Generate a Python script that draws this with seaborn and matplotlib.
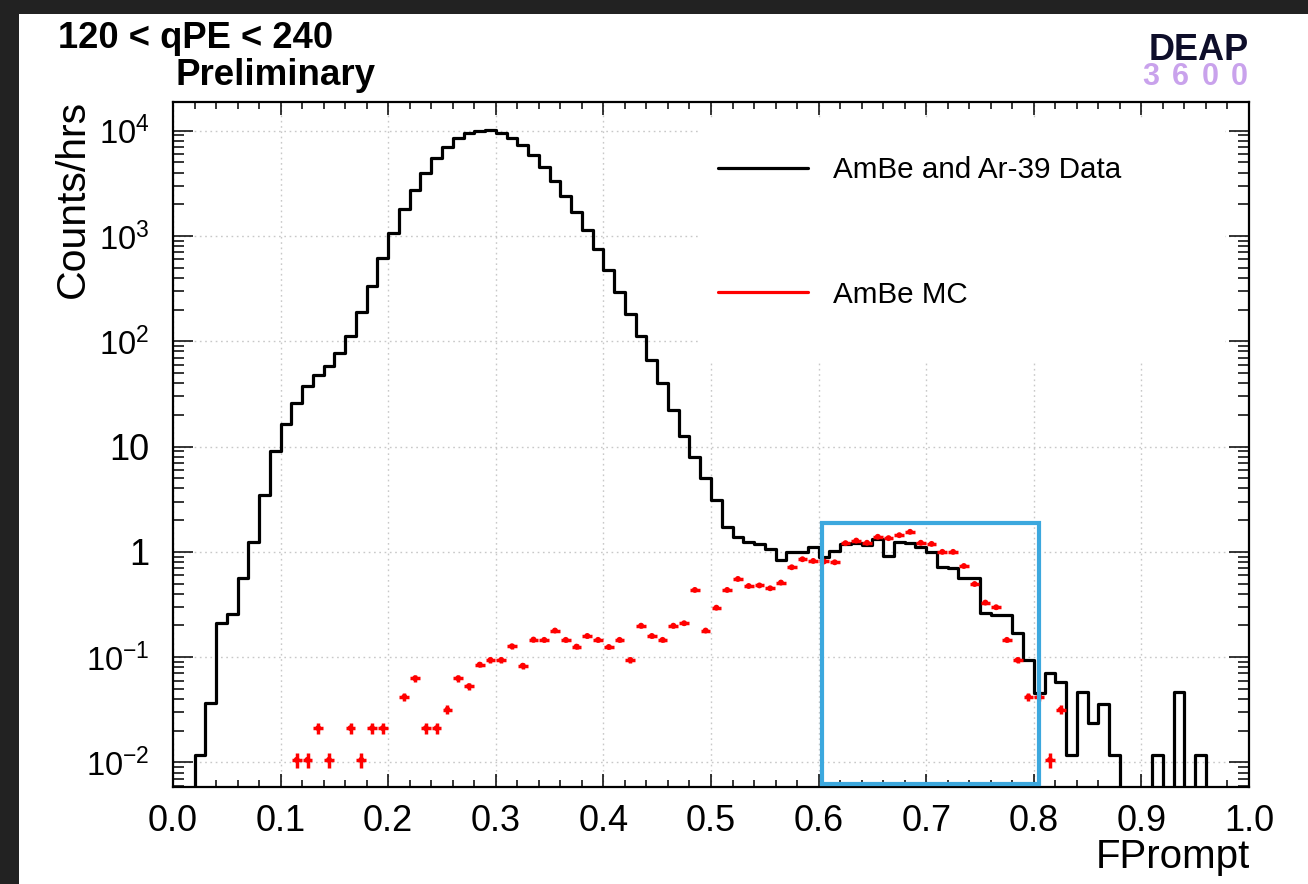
import numpy as np
import pandas as pd
import matplotlib
matplotlib.use("Agg")
import matplotlib.pyplot as plt
import matplotlib.ticker as mticker
from matplotlib.patches import Rectangle
from matplotlib.lines import Line2D
import seaborn as sns

# ---------------------------------------------------------------------------
# Data: FPrompt spectra for 120 < qPE < 240 (rates in counts per hour)
# ---------------------------------------------------------------------------
bin_edges = [round(0.01 * i, 2) for i in range(101)]
bin_centers = [round(0.01 * i + 0.005, 3) for i in range(100)]

# AmBe + Ar-39 data, one value per 0.01-wide FPrompt bin (0.00 ... 0.99)
data_rate = [
    0, 0, 0.0118, 0.0365, 0.213, 0.255, 0.561, 1.25, 3.47, 9.08,
    16.3, 26.1, 37.7, 47.9, 58.6, 78, 112, 191, 337, 622,
    1074, 1795, 2735, 3990, 5470, 6950, 8470, 9580, 10000, 10050,
    9600, 8470, 7310, 5870, 4550, 3350, 2400, 1700, 1140, 748,
    476, 296, 182, 111, 66.4, 40.4, 22.3, 12.6, 8.0, 5.0,
    3.1, 1.73, 1.39, 1.25, 1.19, 1.06, 0.84, 1.0, 0.99, 1.12,
    0.89, 1.03, 1.18, 1.22, 1.16, 1.32, 0.91, 1.25, 1.21, 1.11,
    1.0, 0.72, 0.70, 0.56, 0.56, 0.265, 0.252, 0.252, 0.169, 0.094,
    0.046, 0.071, 0.058, 0.0118, 0.047, 0.0239, 0.036, 0.0118, 0, 0,
    0, 0.0118, 0, 0.047, 0, 0.0118, 0, 0, 0, 0,
]

# AmBe Monte Carlo (bin centres with non-empty content)
mc_fprompt = [
    0.115, 0.125, 0.135, 0.145, 0.165, 0.175, 0.185, 0.195,
    0.215, 0.225, 0.235, 0.245, 0.255, 0.265, 0.275, 0.285, 0.295, 0.305,
    0.315, 0.325, 0.335, 0.345, 0.355, 0.365, 0.375, 0.385, 0.395, 0.405,
    0.415, 0.425, 0.435, 0.445, 0.455, 0.465, 0.475, 0.485, 0.495, 0.505,
    0.515, 0.525, 0.535, 0.545, 0.555, 0.565, 0.575, 0.585, 0.595, 0.605,
    0.615, 0.625, 0.635, 0.645, 0.655, 0.665, 0.675, 0.685, 0.695, 0.705,
    0.715, 0.725, 0.735, 0.745, 0.755, 0.765, 0.775, 0.785, 0.795, 0.805,
    0.815, 0.825,
]
mc_rate = [
    0.0106, 0.0106, 0.0212, 0.0106, 0.0212, 0.0106, 0.0212, 0.0212,
    0.042, 0.063, 0.0212, 0.0212, 0.0318, 0.063, 0.053, 0.085, 0.094, 0.094,
    0.127, 0.083, 0.147, 0.146, 0.179, 0.146, 0.126, 0.159, 0.146, 0.125,
    0.146, 0.094, 0.199, 0.159, 0.146, 0.199, 0.210, 0.435, 0.179, 0.295,
    0.435, 0.553, 0.474, 0.48, 0.451, 0.511, 0.714, 0.851, 0.82, 0.81,
    0.796, 1.21, 1.28, 1.22, 1.39, 1.35, 1.44, 1.55, 1.22, 1.19,
    1.0, 1.0, 0.734, 0.495, 0.33, 0.298, 0.146, 0.094, 0.042, 0.042,
    0.0106, 0.0318,
]

legend_labels = ["AmBe and Ar-39 Data", "AmBe MC"]
y_decades = [-2, -1, 0, 1, 2, 3, 4]

# ---------------------------------------------------------------------------
# Style
# ---------------------------------------------------------------------------
sns.set_style("ticks")
plt.rcParams["font.family"] = ["Liberation Sans", "DejaVu Sans"]
plt.rcParams["mathtext.fontset"] = "custom"
plt.rcParams["mathtext.rm"] = "Liberation Sans"
plt.rcParams["mathtext.default"] = "regular"
for key in ("text.color", "axes.labelcolor", "xtick.color", "ytick.color",
            "axes.edgecolor"):
    plt.rcParams[key] = "black"

W, H = 1308, 884
fig = plt.figure(figsize=(W / 100, H / 100), dpi=100)
fig.patch.set_facecolor("#222222")
fig.add_artist(Rectangle((19 / W, 0), 1 - 19 / W, 1 - 14 / H,
                         transform=fig.transFigure, facecolor="white",
                         edgecolor="none", zorder=-1))

ax_l, ax_r, ax_t, ax_b = 173, 1249, 102, 787
ax = fig.add_axes([ax_l / W, 1 - ax_b / H, (ax_r - ax_l) / W, (ax_b - ax_t) / H])
ax.set_facecolor("white")

# Data histogram
df_data = pd.DataFrame({"FPrompt": bin_centers, "rate": data_rate})
sns.histplot(data=df_data, x="FPrompt", weights="rate", bins=bin_edges,
             element="step", fill=False, color="black", linewidth=2.3,
             ax=ax, zorder=2)

# MC points with error bars
mc_x = np.asarray(mc_fprompt)
mc_y = np.asarray(mc_rate)
mc_err = np.sqrt(mc_y * 0.0003)
ax.errorbar(mc_x, mc_y, xerr=0.0045, yerr=mc_err, fmt="none",
            ecolor="#ff0000", elinewidth=2.5, capsize=0, zorder=3)
sns.scatterplot(x=mc_x, y=mc_y, color="#ff0000", s=18, marker="o",
                edgecolor="none", ax=ax, zorder=4, legend=False)

ax.set_yscale("log")
ax.set_xlim(0.0, 1.0)
ax.set_ylim(10 ** -2.233, 10 ** 4.272)

# Grid
ax.set_axisbelow(True)
ax.grid(True, which="major", color="#c8c8c8", linestyle=(0, (1.2, 2.6)),
        linewidth=1.0)

# Region-of-interest box
ax.add_patch(Rectangle((0.603, 0.00625), 0.805 - 0.603, 1.88 - 0.00625,
                       fill=False, edgecolor="#3ca8de", linewidth=3.0,
                       zorder=6))

# Blank backing behind the legend
ax.add_patch(Rectangle((0.488, 0.62), 0.978 - 0.488, 0.976 - 0.62,
                       transform=ax.transAxes, facecolor="white",
                       edgecolor="none", zorder=1))

handles = [Line2D([], [], color="black", lw=2.3),
           Line2D([], [], color="#ff0000", lw=2.3)]
ax.legend(handles, legend_labels, loc="upper left",
          bbox_to_anchor=(0.5065, 0.921), frameon=False, fontsize=21.3,
          handlelength=3.04, handletextpad=0.845, labelspacing=3.26,
          borderpad=0, borderaxespad=0)

# Ticks
ax.xaxis.set_major_locator(mticker.MultipleLocator(0.1))
ax.xaxis.set_minor_locator(mticker.MultipleLocator(0.02))
ax.xaxis.set_major_formatter(mticker.FormatStrFormatter("%.1f"))
ax.yaxis.set_major_locator(mticker.FixedLocator([10.0 ** d for d in y_decades]))
ax.yaxis.set_minor_locator(mticker.LogLocator(base=10, subs=np.arange(2, 10),
                                              numticks=100))
ax.yaxis.set_minor_formatter(mticker.NullFormatter())


def decade_label(v, pos):
    e = int(round(np.log10(v)))
    if e == 0:
        return "1"
    if e == 1:
        return "10"
    return r"$\mathregular{10^{%d}}$" % e


ax.yaxis.set_major_formatter(mticker.FuncFormatter(decade_label))

ax.tick_params(axis="both", which="both", direction="in", top=True,
               right=True, colors="black", width=1.1)
ax.tick_params(axis="x", which="major", length=9.5, pad=12, labelsize=26)
ax.tick_params(axis="x", which="minor", length=4.8)
ax.tick_params(axis="y", which="major", length=14.5, pad=17, labelsize=26)
ax.tick_params(axis="y", which="minor", length=8)
for s in ax.spines.values():
    s.set_linewidth(1.6)
    s.set_color("black")
    s.set_visible(True)

# Axis titles
ax.set_xlabel("FPrompt", fontsize=29, ha="right")
ax.xaxis.set_label_coords(1.001, -0.074)
ax.set_ylabel("Counts/hrs", fontsize=29.5, ha="right")
ax.yaxis.set_label_coords(-0.0755, 1.003)

# Power-of-ten labels are set a little smaller than the plain ones
fig.canvas.draw()
for tick in ax.yaxis.get_major_ticks():
    if tick.label1.get_text().startswith("$"):
        tick.label1.set_fontsize(23.5)

# Header texts
fig.text(58 / W, 1 - 48 / H, "120 < qPE < 240", fontsize=26.2,
         fontweight="bold", ha="left", va="baseline")
fig.text(175 / W, 1 - 85 / H, "Preliminary", fontsize=26.5,
         fontweight="bold", ha="left", va="baseline")
fig.text(1249 / W, 1 - 60 / H, "DEAP", fontsize=26, fontweight="bold",
         color="#0e0e2a", ha="right", va="baseline")
for i, ch in enumerate("3600"):
    fig.text((1151 + 29.5 * i) / W, 1 - 85 / H, ch, fontsize=22,
             fontweight="bold", color="#c9a2ec", ha="center", va="baseline")

fig.savefig("out.png", dpi=100, facecolor=fig.get_facecolor())
